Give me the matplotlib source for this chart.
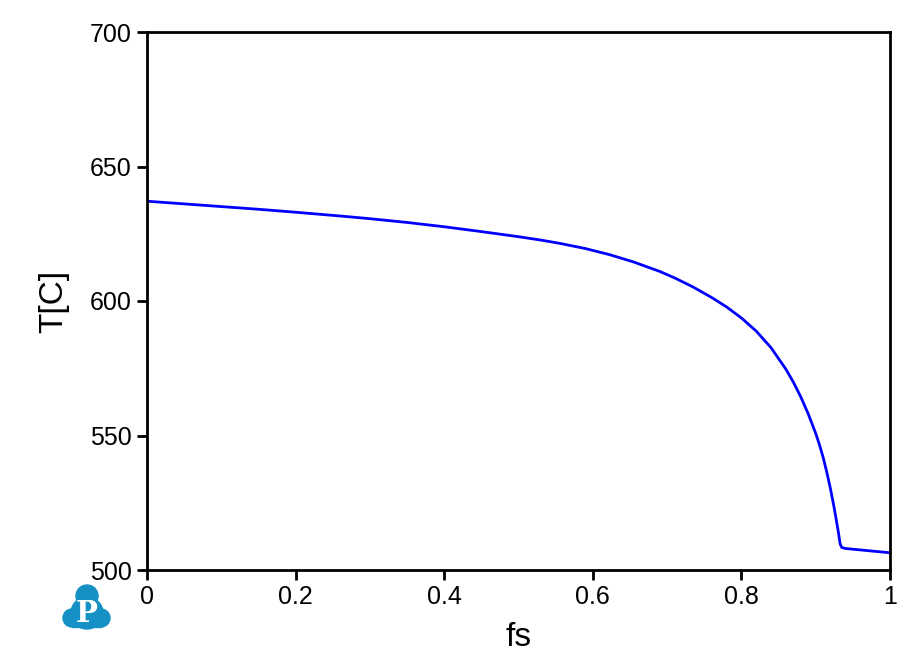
import matplotlib
matplotlib.use("Agg")
import matplotlib.pyplot as plt
from matplotlib.patches import Circle, Rectangle

# Datos
fs = [0.0, 0.05, 0.1, 0.15, 0.2, 0.26, 0.3, 0.35, 0.4, 0.45, 0.5, 0.529,
      0.556, 0.59, 0.623, 0.655, 0.69, 0.71, 0.735, 0.76, 0.78, 0.80,
      0.82, 0.84, 0.86, 0.87, 0.88, 0.89, 0.90, 0.905, 0.91, 0.915, 0.92,
      0.925, 0.93, 0.933, 0.935, 0.94, 0.97, 1.0]
T = [637.1, 636.1, 635.1, 634.1, 633.0, 631.6, 630.6, 629.2, 627.6, 625.8,
     623.9, 622.7, 621.4, 619.5, 617.2, 614.5, 611.0, 608.6, 605.2, 601.3,
     597.8, 593.7, 588.8, 582.6, 574.6, 569.8, 564.3, 558.0, 550.8, 546.6,
     541.9, 536.3, 530.0, 522.9, 514.9, 509.6, 508.4, 508.0, 507.2, 506.4]

xticks = [0, 0.2, 0.4, 0.6, 0.8, 1]
xtick_labels = ["0", "0.2", "0.4", "0.6", "0.8", "1"]
yticks = [500, 550, 600, 650, 700]

plt.rcParams['font.family'] = ['Liberation Sans', 'DejaVu Sans']

fig = plt.figure(figsize=(9.1, 6.71), dpi=100)
ax = fig.add_axes([147 / 910, 1 - 570 / 671, 743 / 910, 538 / 671])

ax.plot(fs, T, color="#0000ff", linewidth=2.0)
ax.set_xlim(0, 1)
ax.set_ylim(500, 700)
ax.set_xticks(xticks)
ax.set_xticklabels(xtick_labels)
ax.set_yticks(yticks)
ax.tick_params(direction="out", length=7, width=2, labelsize=18, pad=4)
for s in ax.spines.values():
    s.set_linewidth(2)
ax.set_xlabel("fs", fontsize=24, labelpad=9)
ax.set_ylabel("T[C]", fontsize=24, labelpad=15)

# Logo (coordenadas en píxeles)
logo = fig.add_axes([55 / 910, 1 - 635 / 671, 65 / 910, 55 / 671])
logo.set_xlim(55, 120)
logo.set_ylim(635, 580)
logo.axis("off")
azul = "#1591c5"
logo.add_patch(Circle((87, 596), 11, color=azul))
logo.add_patch(Circle((87, 613), 16, color=azul))
logo.add_patch(Circle((72, 618), 9, color=azul))
logo.add_patch(Circle((101, 618), 9, color=azul))
logo.add_patch(Rectangle((72, 612), 29, 15, color=azul))
logo.text(87, 614, "P", color="white", fontsize=21, fontweight="bold",
          family="DejaVu Serif", ha="center", va="center")

plt.savefig("out.png", dpi=100)
